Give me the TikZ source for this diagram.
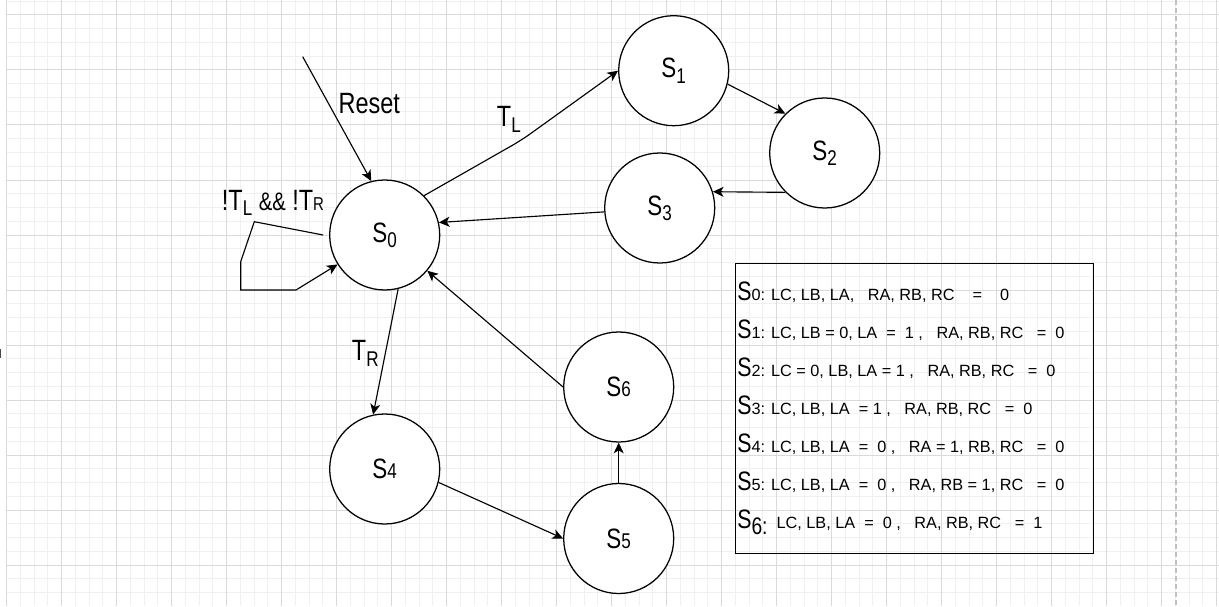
\documentclass[tikz,border=0pt]{standalone}
\usepackage{fontspec}
\setmainfont{Liberation Sans}
\newfontfamily\narrowfont{Liberation Sans}[FakeStretch=0.8]
\usetikzlibrary{arrows.meta}
\definecolor{gridminor}{RGB}{240,240,240}
\definecolor{gridmajor}{RGB}{218,218,218}
\definecolor{pagebreak}{RGB}{192,192,192}
\newcommand{\stsub}[1]{{\fontsize{16}{16}\selectfont\raisebox{-4pt}{#1}}}
\newcommand{\stdig}[1]{{\fontsize{16}{16}\selectfont #1}}
\newcommand{\legS}{{\narrowfont\fontsize{20}{20}\selectfont S}}

\begin{document}
\begin{tikzpicture}[
    x=0.75pt, y=-0.75pt,
    state/.style={circle, draw, fill=white, line width=0.95pt, minimum size=82.5pt, inner sep=0pt, font=\narrowfont\fontsize{21}{21}\selectfont},
    lbl/.style={anchor=base west, inner sep=0pt, font=\narrowfont\fontsize{22}{22}\selectfont},
    row/.style={anchor=base west, inner sep=0pt, font=\fontsize{12.2}{13}\selectfont},
    arrow/.style={-{Stealth[length=8pt, width=7.5pt, inset=2.2pt]}, line width=0.85pt}
]

\fill[white] (0,0) rectangle (1219,606);
\useasboundingbox (0,0) rectangle (1219,606);

\foreach \i in {0,...,88}
    \draw[gridminor, line width=0.75pt] ({6.7+13.75*\i},0) -- ({6.7+13.75*\i},606);
\foreach \j in {-1,...,42}
    \draw[gridminor, line width=0.75pt] (6.7,{15+13.75*\j}) -- (1219,{15+13.75*\j});
\foreach \i in {0,...,22}
    \draw[gridmajor, line width=0.75pt] ({6.7+55*\i},0) -- ({6.7+55*\i},606);
\foreach \j in {0,...,10}
    \draw[gridmajor, line width=0.75pt] (6.7,{15+55*\j}) -- (1219,{15+55*\j});
\draw[pagebreak, line width=1pt, dash pattern=on 3.75pt off 2.25pt] (1176,0) -- (1176,606);
\draw[black!70, line width=0.75pt] (0.5,349) -- (0.5,358);

\node[state] (s0) at (384.7,235) {S\stsub{0}};
\node[state] (s1) at (673.7,70.7) {S\stsub{1}};
\node[state] (s2) at (824.7,153) {S\stsub{2}};
\node[state] (s3) at (659.7,208) {S\stsub{3}};
\node[state] (s4) at (384.7,469) {S\stdig{4}};
\node[state] (s5) at (618.7,538.5) {S\stdig{5}};
\node[state] (s6) at (618.7,387) {S\stdig{6}};

\coordinate (rst) at (302.7,56.7);
\node[lbl] (reset) at (338.3,113.3) {Reset};
\node[lbl] (tl) at (496.7,126.7) {T\stsub{L}};
\node[lbl] (tr) at (351.7,360.7) {T\stsub{R}};
\node[lbl] (idle) at (221.7,210) {!T\stsub{L} {\fontsize{19}{19}\selectfont\&\&} !T{\fontsize{14}{14}\selectfont R}};

\draw[arrow] (rst) -- (s0.104);
\draw[arrow] ([xshift=-4.5pt]s0.west) -- (254.3,221.7) -- (240.7,261.7) -- (240.7,290) -- (296,290) -- (s0.212);
\draw[arrow, rounded corners=8pt] (s0.45) -- (521.7,140) -- (s1.west);
\draw[arrow] (s1.-14) -- (s2.135);
\draw[arrow] (s2.225) -- (s3.17);
\draw[arrow] (s3.184) -- (s0.13);
\draw[arrow] (s0.284) -- (s4.102);
\draw[arrow] (s4.-14) -- (s5.west);
\draw[arrow] (s5) -- (s6);
\draw[arrow] (s6.west) -- (s0.-40);

\node[draw, line width=1pt, minimum width=268.2pt, minimum height=217.5pt, inner sep=0pt] (legend) at (914.5,408.3) {};
\node[row] (r0) at (737,300) {\legS0: LC, LB, LA,~~~RA, RB, RC~~~~=~~~~0};
\node[row] (r1) at (737,338.3) {\legS1: LC, LB = 0, LA~~=~~1~,~~~RA, RB, RC~~~=~~0};
\node[row] (r2) at (737,376.7) {\legS2: LC = 0, LB, LA = 1~,~~~RA, RB, RC~~~=~~0};
\node[row] (r3) at (737,414.3) {\legS3: LC, LB, LA~~= 1~,~~~RA, RB, RC~~~=~~0};
\node[row] (r4) at (737,452.7) {\legS4: LC, LB, LA~~=~~0~,~~~RA = 1, RB, RC~~~=~~0};
\node[row] (r5) at (737,490) {\legS5: LC, LB, LA~~=~~0~,~~~RA, RB = 1, RC~~~=~~0};
\node[row] (r6) at (737,528.3) {\legS{\narrowfont\fontsize{18}{18}\selectfont\raisebox{-4.3pt}{6:}}~~LC, LB, LA~~=~~0~,~~~RA, RB, RC~~~=~~1};

\end{tikzpicture}
\end{document}
